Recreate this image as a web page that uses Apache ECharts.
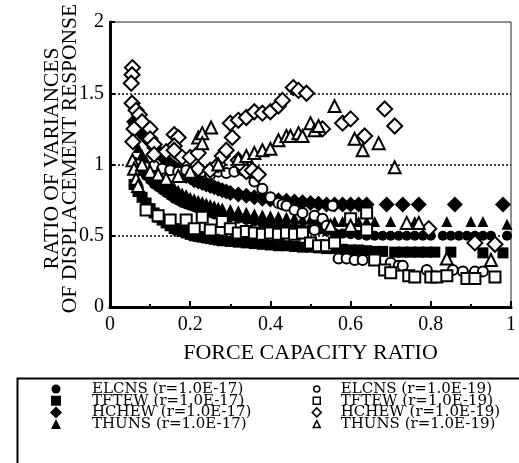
<!DOCTYPE html>
<html>
<head>
<meta charset="utf-8">
<script src="https://cdn.jsdelivr.net/npm/echarts@6/dist/echarts.min.js"></script>
<style>
  html, body { margin: 0; padding: 0; background: #fff; }
  #main { width: 519px; height: 463px; }
</style>
</head>
<body>
<div id="main"></div>
<script>
// axis ticks
const xTicks = [0, 0.2, 0.4, 0.6, 0.8, 1];
const yTicks = [0, 0.5, 1, 1.5, 2];

// r = 1.0E-17 (filled marks)
const elcns17 = [[0.06,1.02],[0.07,0.98],[0.08,0.95],[0.09,0.92],[0.10,0.89],[0.11,0.86],[0.12,0.84],[0.13,0.82],[0.14,0.8],[0.15,0.78],[0.16,0.76],[0.17,0.745],[0.18,0.73],[0.19,0.72],[0.20,0.71],[0.21,0.70],[0.22,0.69],[0.23,0.68],[0.24,0.67],[0.25,0.66],[0.26,0.65],[0.27,0.645],[0.28,0.64],[0.29,0.635],[0.30,0.63],[0.32,0.62],[0.34,0.61],[0.36,0.6],[0.38,0.59],[0.40,0.58],[0.42,0.57],[0.44,0.565],[0.46,0.56],[0.48,0.55],[0.50,0.545],[0.52,0.54],[0.54,0.53],[0.56,0.52],[0.58,0.515],[0.60,0.51],[0.62,0.505],[0.64,0.5],[0.66,0.5],[0.68,0.5],[0.70,0.5],[0.72,0.5],[0.74,0.5],[0.76,0.5],[0.78,0.5],[0.80,0.5],[0.83,0.5],[0.85,0.5],[0.87,0.5],[0.89,0.5],[0.91,0.5],[0.93,0.5],[0.95,0.5],[0.99,0.5]];
const tftew17 = [[0.06,0.86],[0.07,0.81],[0.08,0.77],[0.09,0.73],[0.10,0.69],[0.11,0.66],[0.12,0.63],[0.13,0.61],[0.14,0.59],[0.15,0.57],[0.16,0.55],[0.17,0.54],[0.18,0.53],[0.19,0.52],[0.20,0.51],[0.21,0.50],[0.22,0.495],[0.23,0.49],[0.24,0.485],[0.25,0.48],[0.26,0.475],[0.27,0.47],[0.28,0.465],[0.30,0.46],[0.32,0.455],[0.34,0.45],[0.36,0.445],[0.38,0.44],[0.40,0.435],[0.42,0.43],[0.44,0.43],[0.46,0.425],[0.48,0.42],[0.50,0.42],[0.52,0.415],[0.54,0.41],[0.56,0.41],[0.58,0.405],[0.60,0.4],[0.62,0.4],[0.64,0.395],[0.66,0.39],[0.68,0.39],[0.71,0.385],[0.73,0.385],[0.75,0.385],[0.77,0.385],[0.79,0.385],[0.81,0.385],[0.85,0.385],[0.93,0.38],[0.98,0.38]];
const hchew17 = [[0.06,1.3],[0.065,1.28],[0.07,1.26],[0.075,1.24],[0.08,1.22],[0.09,1.19],[0.10,1.16],[0.11,1.12],[0.12,1.09],[0.13,1.06],[0.14,1.03],[0.15,1.0],[0.16,0.98],[0.17,0.96],[0.18,0.94],[0.19,0.92],[0.20,0.91],[0.21,0.89],[0.22,0.88],[0.23,0.87],[0.24,0.86],[0.25,0.85],[0.26,0.84],[0.27,0.83],[0.28,0.82],[0.29,0.81],[0.30,0.8],[0.32,0.79],[0.34,0.78],[0.36,0.77],[0.38,0.76],[0.40,0.755],[0.42,0.75],[0.44,0.745],[0.46,0.74],[0.48,0.735],[0.50,0.73],[0.52,0.725],[0.54,0.72],[0.56,0.72],[0.58,0.72],[0.60,0.72],[0.62,0.72],[0.64,0.72],[0.69,0.72],[0.73,0.72],[0.77,0.72],[0.86,0.72],[0.98,0.72]];
const thuns17 = [[0.06,1.18],[0.07,1.12],[0.08,1.07],[0.09,1.03],[0.10,0.99],[0.11,0.96],[0.12,0.93],[0.13,0.9],[0.14,0.88],[0.15,0.86],[0.16,0.84],[0.17,0.82],[0.18,0.8],[0.19,0.79],[0.20,0.77],[0.21,0.76],[0.22,0.75],[0.23,0.74],[0.24,0.73],[0.25,0.72],[0.26,0.71],[0.27,0.7],[0.28,0.695],[0.30,0.685],[0.32,0.675],[0.34,0.665],[0.36,0.655],[0.38,0.645],[0.40,0.64],[0.42,0.635],[0.44,0.63],[0.46,0.625],[0.48,0.62],[0.50,0.615],[0.52,0.61],[0.54,0.61],[0.56,0.6],[0.58,0.6],[0.60,0.6],[0.62,0.6],[0.64,0.6],[0.66,0.6],[0.70,0.6],[0.76,0.6],[0.84,0.6],[0.90,0.6],[0.93,0.6],[0.99,0.58]];

// r = 1.0E-19 (open marks)
const elcns19 = [[0.07,1.0],[0.09,0.98],[0.11,0.99],[0.13,0.97],[0.15,0.96],[0.17,0.95],[0.19,0.96],[0.21,0.94],[0.23,0.95],[0.25,0.93],[0.27,0.95],[0.29,0.94],[0.31,0.95],[0.33,0.96],[0.35,0.94],[0.36,0.88],[0.38,0.83],[0.40,0.77],[0.42,0.73],[0.43,0.72],[0.44,0.71],[0.46,0.68],[0.48,0.66],[0.51,0.64],[0.53,0.62],[0.555,0.71],[0.51,0.54],[0.54,0.57],[0.57,0.34],[0.59,0.34],[0.61,0.33],[0.63,0.33],[0.70,0.31],[0.72,0.29],[0.73,0.29],[0.79,0.26],[0.855,0.26],[0.88,0.25],[0.91,0.25],[0.93,0.25]];
const tftew19 = [[0.09,0.68],[0.12,0.64],[0.15,0.61],[0.19,0.61],[0.21,0.55],[0.23,0.63],[0.25,0.54],[0.28,0.6],[0.30,0.55],[0.32,0.52],[0.34,0.53],[0.36,0.52],[0.38,0.51],[0.40,0.52],[0.42,0.51],[0.44,0.52],[0.46,0.51],[0.48,0.52],[0.50,0.45],[0.52,0.43],[0.54,0.43],[0.56,0.45],[0.60,0.62],[0.64,0.66],[0.64,0.54],[0.66,0.33],[0.685,0.26],[0.70,0.24],[0.745,0.22],[0.76,0.21],[0.80,0.21],[0.815,0.21],[0.84,0.22],[0.89,0.2],[0.91,0.2],[0.96,0.21]];
const hchew19 = [[0.056,1.68],[0.055,1.63],[0.053,1.57],[0.055,1.43],[0.065,1.38],[0.073,1.35],[0.08,1.3],[0.1,1.25],[0.06,1.25],[0.057,1.16],[0.10,1.18],[0.11,1.14],[0.16,1.21],[0.17,1.19],[0.16,1.13],[0.11,1.07],[0.14,1.09],[0.16,1.1],[0.18,1.05],[0.2,1.05],[0.22,1.08],[0.22,0.97],[0.25,0.96],[0.27,1.0],[0.28,1.06],[0.29,1.1],[0.305,1.19],[0.30,1.29],[0.32,1.31],[0.34,1.33],[0.36,1.37],[0.38,1.36],[0.40,1.37],[0.42,1.41],[0.43,1.45],[0.457,1.54],[0.47,1.52],[0.49,1.5],[0.32,1.03],[0.33,0.99],[0.34,0.95],[0.355,0.96],[0.37,0.93],[0.53,1.25],[0.58,1.29],[0.60,1.32],[0.635,1.2],[0.685,1.39],[0.71,1.27],[0.795,0.55],[0.91,0.45],[0.96,0.44]];
const thuns19 = [[0.056,1.03],[0.06,0.97],[0.065,0.9],[0.07,0.85],[0.08,1.0],[0.1,0.95],[0.12,0.93],[0.14,0.9],[0.17,0.92],[0.2,0.95],[0.22,1.19],[0.23,1.22],[0.252,1.26],[0.23,1.15],[0.27,1.0],[0.32,1.04],[0.34,1.06],[0.36,1.08],[0.38,1.1],[0.40,1.11],[0.42,1.17],[0.44,1.2],[0.45,1.2],[0.47,1.22],[0.48,1.2],[0.50,1.29],[0.51,1.24],[0.52,1.27],[0.56,1.41],[0.61,1.18],[0.63,1.1],[0.67,1.15],[0.71,0.98],[0.74,0.59],[0.77,0.59],[0.84,0.34],[0.95,0.33],[0.55,0.57],[0.6,0.57]];

const names17 = ["ELCNS (r=1.0E-17)", "TFTEW (r=1.0E-17)", "HCHEW (r=1.0E-17)", "THUNS (r=1.0E-17)"];
const names19 = ["ELCNS (r=1.0E-19)", "TFTEW (r=1.0E-19)", "HCHEW (r=1.0E-19)", "THUNS (r=1.0E-19)"];
const symbols = ["circle", "rect", "diamond", "triangle"];
const sizes17 = [10, 11, 16, 11];
const sizes19 = [10, 11, 15, 12];
const rowY = [388.5, 400.2, 411.9, 423.6];

const serif = "'Liberation Serif', 'Times New Roman', serif";

function filled(name, data, symbol, size) {
  return {
    name: name, type: "scatter", data: data, symbol: symbol, symbolSize: size,
    itemStyle: { color: "#000", opacity: 1 }
  };
}
function open(name, data, symbol, size) {
  return {
    name: name, type: "scatter", data: data, symbol: symbol, symbolSize: size,
    itemStyle: { color: "#fff", borderColor: "#000", borderWidth: 2, opacity: 1 }
  };
}

// one legend per row so the rows can sit as tight as in the figure
function legendItem(name, i, iconX, textX, s, hollow) {
  const item = {
    orient: "vertical", left: iconX - s / 2, top: rowY[i] - 7, itemGap: 0, padding: 0,
    itemWidth: s, itemHeight: s,
    textStyle: { fontFamily: "'DejaVu Serif', serif", fontSize: 15, color: "#000", lineHeight: 14,
      padding: [0, 0, 0, textX - (iconX + s / 2) - 5] },
    data: [name]
  };
  if (hollow) item.itemStyle = { borderWidth: 1.5 };
  return item;
}

const legends = [];
const icon17 = [9, 10, 12, 10];
const icon19 = [6, 7, 9, 7];
names17.forEach((n, i) => legends.push(legendItem(n, i, 56, 92, icon17[i], false)));
names19.forEach((n, i) => legends.push(legendItem(n, i, 316, 340, icon19[i], true)));

const option = {
  animation: false,
  backgroundColor: "#fff",
  grid: {
    left: 110, right: 2, top: 22, bottom: 156,
    show: true, borderColor: "#222", borderWidth: 1
  },
  legend: legends,
  graphic: [
    // legend frame (runs off the right and bottom edge)
    { type: "rect", left: 15, top: 376, shape: { width: 520, height: 100 },
      style: { fill: "none", stroke: "#000", lineWidth: 2 } }
  ],
  xAxis: {
    type: "value", min: xTicks[0], max: xTicks[xTicks.length - 1], interval: 0.2,
    name: "FORCE CAPACITY RATIO", nameLocation: "middle", nameGap: 35,
    nameTextStyle: { fontFamily: serif, fontSize: 22, color: "#000" },
    axisLine: { lineStyle: { color: "#000", width: 3 } },
    axisTick: { inside: true, length: 6, lineStyle: { color: "#000", width: 2 } },
    minorTick: { show: true, splitNumber: 2, length: 3, lineStyle: { color: "#000", width: 2 } },
    splitLine: { show: false },
    axisLabel: { fontFamily: serif, fontSize: 20, color: "#000", margin: 8,
      formatter: v => String(v) }
  },
  yAxis: {
    type: "value", min: yTicks[0], max: yTicks[yTicks.length - 1], interval: 0.5,
    name: "RATIO OF VARIANCES\nOF DISPLACEMENT RESPONSE", nameLocation: "middle",
    nameGap: 31, nameMoveOverlap: false,
    nameTextStyle: { fontFamily: serif, fontSize: 21.5, color: "#000", lineHeight: 18,
      padding: [0, 0, 0, 12] },
    axisLine: { lineStyle: { color: "#000", width: 3 } },
    axisTick: { inside: true, length: 5, lineStyle: { color: "#000", width: 2 } },
    splitLine: { show: true, showMinLine: false, showMaxLine: false,
      lineStyle: { color: "#000", type: [2, 2], width: 1.5 } },
    axisLabel: { fontFamily: serif, fontSize: 20, color: "#000", margin: 6,
      formatter: v => String(v) }
  },
  series: [
    filled(names17[0], elcns17, symbols[0], sizes17[0]),
    filled(names17[1], tftew17, symbols[1], sizes17[1]),
    filled(names17[2], hchew17, symbols[2], sizes17[2]),
    filled(names17[3], thuns17, symbols[3], sizes17[3]),
    open(names19[0], elcns19, symbols[0], sizes19[0]),
    open(names19[1], tftew19, symbols[1], sizes19[1]),
    open(names19[2], hchew19, symbols[2], sizes19[2]),
    open(names19[3], thuns19, symbols[3], sizes19[3])
  ]
};

const chart = echarts.init(document.getElementById("main"));
chart.setOption(option);
</script>
</body>
</html>
